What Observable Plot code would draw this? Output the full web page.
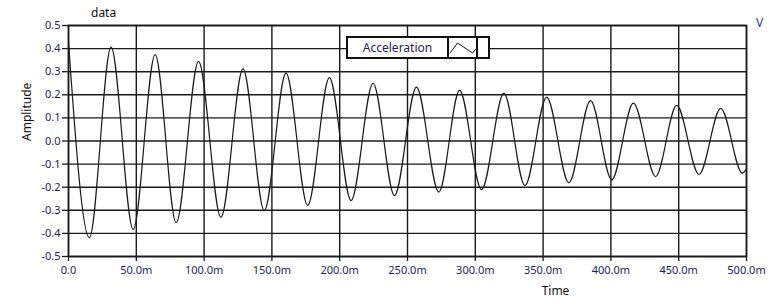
<!DOCTYPE html>
<html>
<head>
<meta charset="utf-8">
<script src="https://cdn.jsdelivr.net/npm/d3@7"></script>
<script src="https://cdn.jsdelivr.net/npm/@observablehq/plot@0.6"></script>
<style>
  html, body { margin: 0; padding: 0; background: #fff; }
  #wrap { position: relative; width: 772px; height: 306px; overflow: hidden; font-family: "Noto Sans", sans-serif; }
  #wrap svg { position: absolute; left: 0; top: 0; }
  .ov { position: absolute; white-space: nowrap; }
</style>
</head>
<body>
<div id="wrap"></div>
<script>
// Extrema (and end points): time in ms, amplitude
const timeMs = [0, 15.4, 31.4, 47.7, 63.9, 79.4, 95.9, 112.4, 128.7, 144.4, 160.4, 176.4, 192.4, 208.4, 224.6, 240.4, 256.6, 273.1, 288.4, 304.6, 321.1, 336.6, 352.6, 369, 385, 400.6, 416.6, 433, 448.5, 465, 481, 497, 500];
const amplitude = [0.428, -0.419, 0.406, -0.383, 0.374, -0.354, 0.345, -0.330, 0.312, -0.301, 0.294, -0.279, 0.274, -0.258, 0.250, -0.236, 0.233, -0.221, 0.219, -0.211, 0.207, -0.193, 0.190, -0.181, 0.175, -0.168, 0.164, -0.154, 0.154, -0.145, 0.141, -0.139, -0.120];

const xTicks = [0, 0.05, 0.1, 0.15, 0.2, 0.25, 0.3, 0.35, 0.4, 0.45, 0.5];
const xTickLabels = ["0.0", "50.0m", "100.0m", "150.0m", "200.0m", "250.0m", "300.0m", "350.0m", "400.0m", "450.0m", "500.0m"];
const yTicks = [-0.5, -0.4, -0.3, -0.2, -0.1, 0, 0.1, 0.2, 0.3, 0.4, 0.5];
const yTickLabels = ["-0.5", "-0.4", "-0.3", "-0.2", "-0.1", "0.0", "0.1", "0.2", "0.3", "0.4", "0.5"];

const data = timeMs.map((t, i) => ({ t: t / 1000, v: amplitude[i] }));
const labelColor = "#1e1e5a";

const chart = Plot.plot({
  width: 772,
  height: 306,
  marginLeft: 68,
  marginRight: 26,
  marginTop: 25,
  marginBottom: 50,
  style: { fontFamily: "Noto Sans, sans-serif", fontSize: "11px", background: "transparent", overflow: "visible" },
  x: { domain: [0, 0.5] },
  y: { domain: [-0.5, 0.5] },
  marks: [
    Plot.gridX(xTicks, { stroke: "#1a1a1a", strokeOpacity: 1, strokeWidth: 1.4 }),
    Plot.gridY(yTicks, { stroke: "#1a1a1a", strokeOpacity: 1, strokeWidth: 1.4 }),
    Plot.frame({ stroke: "#1a1a1a", strokeWidth: 1.6 }),
    Plot.axisX(xTicks, {
      tickSize: 5, tickPadding: 5, fill: labelColor, stroke: "#1a1a1a", strokeWidth: 1.3,
      tickFormat: (d, i) => xTickLabels[i], label: null, fontSize: 11
    }),
    Plot.axisY(yTicks, {
      tickSize: 6, tickPadding: 2, fill: labelColor, stroke: "#1a1a1a", strokeWidth: 1.3,
      tickFormat: (d, i) => yTickLabels[i], label: null, fontSize: 11
    }),
    Plot.line(data, { x: "t", y: "v", curve: "monotone-x", stroke: "#1a1a1a", strokeWidth: 1.2 }),
    Plot.text(["Amplitude"], { frameAnchor: "left", dx: -41, rotate: -90, fontSize: 12, fill: "#111" }),
    Plot.text(["Time"], { frameAnchor: "bottom", dx: 148, dy: 38, fontSize: 12, fill: "#111" })
  ]
});

const wrap = document.getElementById("wrap");
wrap.appendChild(chart);

// Title
const title = document.createElement("div");
title.className = "ov";
title.style.cssText = "left:91px;top:4px;font-size:12px;color:#111;";
title.textContent = "data";
wrap.appendChild(title);

// Clipped label at right edge
const clipped = document.createElement("div");
clipped.className = "ov";
clipped.style.cssText = "left:756px;top:14px;font-size:12px;color:#2a3f8f;";
clipped.textContent = "V";
wrap.appendChild(clipped);

// Legend
const legend = document.createElement("div");
legend.className = "ov";
legend.style.cssText = "left:346px;top:36px;width:140px;height:19px;border:2px solid #111;background:#fff;";
legend.innerHTML =
  '<div style="position:absolute;left:0;top:0;width:99px;height:19px;border-right:2px solid #111;font-size:12px;line-height:19px;color:' + labelColor + ';text-align:center;">Acceleration</div>' +
  '<svg style="position:absolute;left:101px;top:0" width="28" height="19"><polyline points="1,15 8.5,5 23.5,15 27,11" fill="none" stroke="#111" stroke-width="1"/></svg>' +
  '<div style="position:absolute;left:128px;top:0;width:0;height:19px;border-left:2px solid #111;"></div>';
wrap.appendChild(legend);
</script>
</body>
</html>
